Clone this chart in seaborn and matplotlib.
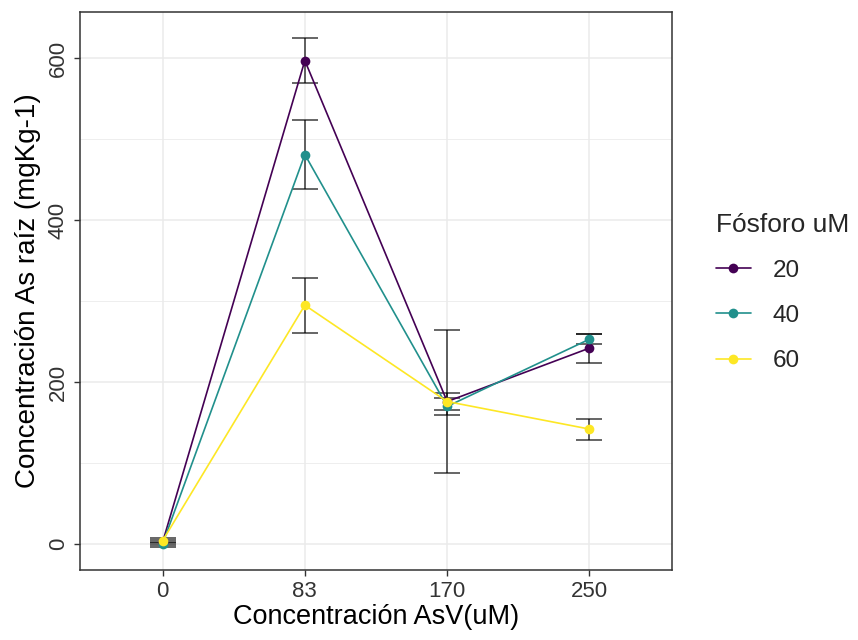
import numpy as np
import pandas as pd
import matplotlib
matplotlib.use("Agg")
import matplotlib.pyplot as plt
from matplotlib.lines import Line2D
import seaborn as sns

# Data: mean root As concentration and error per phosphorus level
categorias = ["0", "83", "170", "250"]
fosforo = ["20", "40", "60"]
media_20 = [2, 597, 176, 242]
media_40 = [0, 481, 170, 253]
media_60 = [4, 295, 176, 142]
error_20 = [3, 28, 10, 18]
error_40 = [3, 43, 10, 6]
error_60 = [3, 34, 88, 13]
colores = ["#440154", "#21908C", "#FDE725"]

medias = {"20": media_20, "40": media_40, "60": media_60}
errores = {"20": error_20, "40": error_40, "60": error_60}

filas = []
for p in fosforo:
    for i, c in enumerate(categorias):
        filas.append({"AsV": c, "pos": i, "P": p,
                      "media": medias[p][i], "err": errores[p][i]})
df = pd.DataFrame(filas)

sns.set_theme(style="white")
plt.rcParams["font.family"] = ["Liberation Sans", "DejaVu Sans"]

fig = plt.figure(figsize=(8.58, 6.4), dpi=100)
ax = fig.add_axes([80 / 858, 1 - 570 / 640, (672 - 80) / 858, (570 - 12) / 640])

paleta = dict(zip(fosforo, colores))

# Error bars
for p in fosforo:
    sub = df[df.P == p]
    ax.errorbar(sub["pos"], sub["media"], yerr=sub["err"], fmt="none",
                ecolor="black", alpha=0.7, elinewidth=1.2, capsize=9.5,
                capthick=1.2, zorder=3)

sns.lineplot(data=df, x="pos", y="media", hue="P", palette=paleta,
             marker="o", markersize=7, markeredgewidth=0, linewidth=1.2,
             legend=False, ax=ax, zorder=4)

ax.set_xlim(-0.58, 3.58)
ax.set_ylim(-32, 657)
ax.set_xticks(range(len(categorias)))
ax.set_xticklabels(categorias)
ax.set_yticks([0, 200, 400, 600])
ax.set_yticks([100, 300, 500], minor=True)
ax.tick_params(axis="y", labelrotation=90)
for lab in ax.get_yticklabels():
    lab.set_va("center")
ax.tick_params(axis="both", which="major", labelsize=16, length=4, width=1,
               color="#333333", labelcolor="#333333", direction="out",
               bottom=True, left=True, pad=4)
ax.tick_params(axis="y", which="minor", length=0)

ax.grid(True, which="major", color="#EBEBEB", linewidth=1.1)
ax.grid(True, which="minor", axis="y", color="#EBEBEB", linewidth=0.6)
ax.set_axisbelow(True)
for s in ax.spines.values():
    s.set_color("#333333")
    s.set_linewidth(1.1)

ax.set_xlabel("Concentración AsV(uM)", fontsize=19.5, color="black", labelpad=1)
ax.set_ylabel("Concentración As raíz (mgKg-1)", fontsize=20, color="black",
              labelpad=5)

handles = [Line2D([0], [0], color=c, marker="o", markersize=7,
                  markeredgewidth=0, linewidth=1.2) for c in colores]
leg = fig.legend(handles, fosforo, title="Fósforo uM", loc="upper left",
                 bbox_to_anchor=(706 / 858, 1 - 203 / 640), frameon=False,
                 fontsize=17.5, title_fontsize=19, handlelength=1.45,
                 labelspacing=0.95, handletextpad=0.9, borderaxespad=0)
leg._legend_box.align = "left"

fig.savefig("out.png", dpi=100)
